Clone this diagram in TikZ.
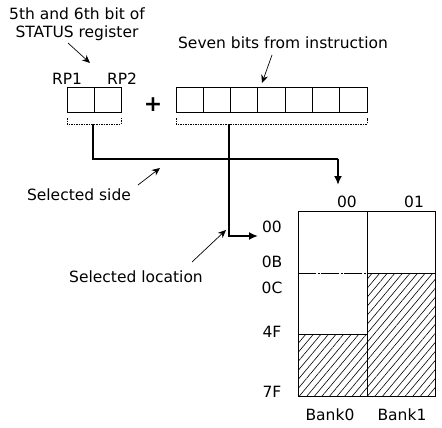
\documentclass[tikz,border=0pt]{standalone}
\usepackage{fontspec}
\setmainfont{DejaVu Sans}
\usepackage{tikz}
\usetikzlibrary{arrows.meta,patterns.meta}

\begin{document}
\begin{tikzpicture}[x=1pt,y=-1pt,font=\fontsize{15.5}{18}\selectfont,
    bus/.style={line width=2.2pt},
    note/.style={-{Stealth[length=8pt,width=7pt]},line width=0.7pt},
    bracket/.style={line width=1pt,dash pattern=on 1.5pt off 1pt},
    hatch/.style={pattern={Lines[angle=50,distance=5.8pt,line width=0.6pt]}}]
    \useasboundingbox (0,0) rectangle (442,428);
    % register bits
    \draw[line width=0.8pt] (67,87) rectangle (121,112);
    \draw[line width=0.8pt] (94,87) -- (94,112);
    \node (rp1) at (67,79) {RP1};
    \node (rp2) at (122,79) {RP2};
    \node[align=center] (status) at (77,24) {5th and 6th bit of\\STATUS register};
    \node (plus) at (153,105) {\fontsize{22}{22}\selectfont\textbf{+}};
    % instruction bits
    \foreach \i in {0,...,6}
        \draw[line width=0.8pt] (176+\i*27.29,87) rectangle ++(27.29,25);
    \node (seven) at (283,43) {Seven bits from instruction};
    % dotted brackets
    \draw[bracket] (67,118) -- (67,124) -- (121,124) -- (121,118);
    \draw[bracket] (176,118) -- (176,124) -- (367,124) -- (367,118);
    \coordinate (rpout) at (93,124);
    \coordinate (insout) at (229,124);
    % memory map
    \draw[hatch] (298,334) rectangle (367,396);
    \draw[hatch] (367,273) rectangle (435,396);
    \draw[line width=0.8pt] (367,211) -- (367,396);
    \draw[line width=0.8pt,dash pattern=on 18pt off 1.5pt on 2pt off 1.5pt] (298,273) -- (367,273);
    \draw[line width=0.8pt] (367,273) -- (435,273);
    \draw[line width=0.8pt] (298,334) -- (367,334);
    \draw[line width=0.8pt] (298,211) rectangle (435,396);
    \node (b0) at (347,202) {00};
    \node (b1) at (414,202) {01};
    \node (a00) at (272,227) {00};
    \node (a0b) at (272,262) {0B};
    \node (a0c) at (272,288) {0C};
    \node (a4f) at (272,332) {4F};
    \node (a7f) at (272,392) {7F};
    \node (bank0) at (330,415) {Bank0};
    \node (bank1) at (402,415) {Bank1};
    \coordinate (sideend) at (338,185);
    \coordinate (locend) at (258,236);
    % selection buses
    \draw[bus] (rpout) -- (93,159) -- (338,159);
    \draw[bus,-{Latex[length=9pt,width=8pt]}] (338,159) -- (sideend);
    \draw[bus,-{Latex[length=9pt,width=8pt]}] (insout) |- (locend);
    % annotations
    \node (side) at (79,195) {Selected side};
    \node (loc) at (136,277) {Selected location};
    \draw[note] (68,43) -- (90,63);
    \draw[note] (272,55) -- (262,83);
    \draw[note] (138,185) -- (160,168);
    \draw[note] (192,262) -- (226,230);
\end{tikzpicture}
\end{document}
